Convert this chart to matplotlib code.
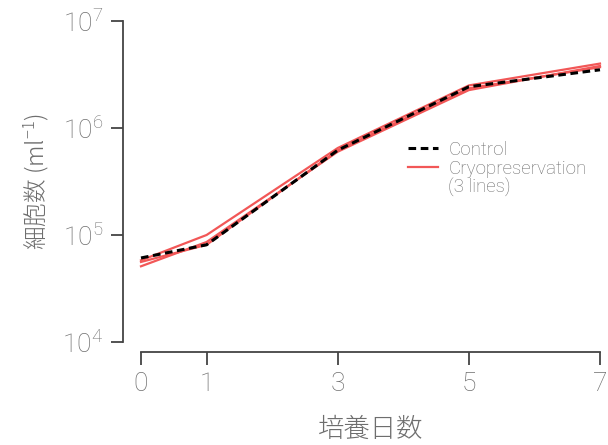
import matplotlib
matplotlib.use("Agg")
import matplotlib.pyplot as plt
from matplotlib.lines import Line2D

plt.rcParams['font.family'] = ['Roboto', 'Noto Sans CJK JP', 'DejaVu Sans']
plt.rcParams['font.weight'] = 'light'
plt.rcParams['mathtext.default'] = 'regular'

days = [0, 1, 3, 5, 7]
control = [6.1e4, 8.1e4, 6.2e5, 2.43e6, 3.5e6]
cryo_a = [5.8e4, 1.0e5, 6.5e5, 2.5e6, 4.0e6]
cryo_b = [5.1e4, 8.6e4, 6.0e5, 2.26e6, 3.8e6]
cryo_c = [5.6e4, 8.1e4, 6.2e5, 2.35e6, 3.7e6]
yticks = [1e4, 1e5, 1e6, 1e7]
ytick_labels = ['$10^{4}$', '$10^{5}$', '$10^{6}$', '$10^{7}$']

RED = "#f25757"
GRAY = "#6e6e6e"
AX = "#444444"

fig = plt.figure(figsize=(6.08, 4.45), dpi=100)
ax = fig.add_axes([141/608, 1-342/445, (600-141)/608, (342-21)/445])

cryo_lines = []
for s in [cryo_a, cryo_b, cryo_c]:
    cryo_lines += ax.plot(days, s, color=RED, lw=1.6, clip_on=False)
ctrl, = ax.plot(days, control, color="black", lw=2.2, ls=(0, (2.5, 1.5)),
                clip_on=False, zorder=3)

ax.set_yscale("log")
ax.set_ylim(1e4, 1e7)
ax.set_xlim(0, 7)
ax.set_yticks(yticks)
ax.set_yticklabels(ytick_labels)
ax.minorticks_off()
ax.set_xticks(days)

for sp in ["top", "right"]:
    ax.spines[sp].set_visible(False)
ax.spines["left"].set_position(("outward", 13))
ax.spines["bottom"].set_position(("outward", 7.5))
for sp in ["left", "bottom"]:
    ax.spines[sp].set_color(AX)
    ax.spines[sp].set_linewidth(1.3)
ax.tick_params(axis="both", colors=AX, width=1.3, length=9, labelcolor=GRAY,
               labelsize=19)
ax.tick_params(axis="y", pad=5)
ax.tick_params(axis="x", pad=5)

ax.set_ylabel("細胞数 (ml$^{-1}$)", color=GRAY, fontsize=17, labelpad=8,
              family=['Noto Sans CJK JP'], fontweight='light')
ax.set_xlabel("培養日数", color=GRAY, fontsize=19, labelpad=14,
              family=['Noto Sans CJK JP'], fontweight='light')

blank = Line2D([], [], color="none")
leg = ax.legend([ctrl, cryo_lines[0], blank],
                ["Control", "Cryopreservation", "(3 lines)"],
                loc="upper left", bbox_to_anchor=(0.545, 0.68), frameon=False,
                fontsize=13.5, handlelength=1.6, handletextpad=0.55,
                labelspacing=0.05, labelcolor=GRAY)

fig.savefig("out.png", dpi=100)
